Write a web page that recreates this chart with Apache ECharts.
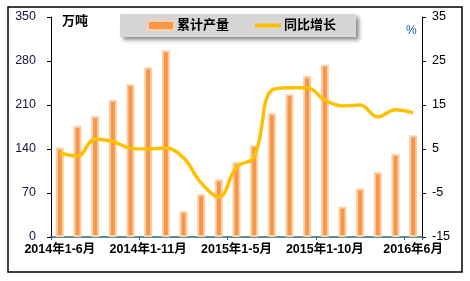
<!DOCTYPE html>
<html><head><meta charset="utf-8">
<script src="https://cdn.jsdelivr.net/npm/echarts@6/dist/echarts.min.js"></script>
<style>html,body{margin:0;padding:0;background:#fff}#c{width:470px;height:281px}</style>
</head><body><div id="c"></div>
<script>
const categories = ['2014年1-6月','2014年1-7月','2014年1-8月','2014年1-9月','2014年1-10月','2014年1-11月','2014年1-12月',
 '2015年1-2月','2015年1-3月','2015年1-4月','2015年1-5月','2015年1-6月','2015年1-7月','2015年1-8月','2015年1-9月','2015年1-10月',
 '2016年1-2月','2016年1-3月','2016年1-4月','2016年1-5月','2016年6月'];
const output = [142, 177, 192, 218, 243, 270, 297, 41, 68, 92, 119, 146, 197, 227, 256, 274, 48, 77, 103, 132, 162];
const growth = [4.1, 3.4, 7.3, 6.7, 5.2, 5.0, 5.2, 3.0, -2.7, -5.9, 0.9, 3.2, 18.4, 18.9, 18.9, 16.1, 14.8, 15.0, 12.3, 13.9, 13.2];
const leftTicks = [0, 70, 140, 210, 280, 350];
const rightTicks = [-15, -5, 5, 15, 25, 35];

const chart = echarts.init(document.getElementById('c'));
const font = 'Arial, "Liberation Sans", "Noto Sans CJK SC", sans-serif';
chart.setOption({
  animation: false,
  textStyle: {fontFamily: font},
  grid: {left: 51, right: 48, top: 17, bottom: 44},
  legend: {
    left: 120, top: 14,
    padding: [5, 20, 5, 27],
    itemWidth: 26, itemHeight: 9, itemGap: 24,
    backgroundColor: '#d6d6d6',
    shadowColor: 'rgba(0,0,0,0.45)', shadowBlur: 4, shadowOffsetX: 3, shadowOffsetY: 3,
    textStyle: {fontSize: 13, fontWeight: 'bold', color: '#000', fontFamily: font, padding: [0,0,0,-2]},
    data: [{name: '累计产量'}, {name: '同比增长', itemStyle: {opacity: 0}, lineStyle: {color: '#ffc000', width: 4}}]
  },
  graphic: [
    {type: 'rect', shape: {x: 8, y: 7, width: 454, height: 265}, style: {fill: 'none', stroke: '#000', lineWidth: 1.5}, z: -1},
    {type: 'text', left: 62, top: 15, style: {text: '万吨', font: 'bold 13px ' + font, fill: '#000'}},
    {type: 'text', left: 406, top: 25, style: {text: '%', font: '12px ' + font, fill: '#1f5fa8'}}
  ],
  xAxis: {
    type: 'category', data: categories,
    axisLine: {lineStyle: {color: '#2b6474', width: 1.5}},
    axisTick: {show: true, length: 3, lineStyle: {color: '#2b6474'}},
    axisLabel: {interval: 4, fontSize: 12.5, fontWeight: 'bold', color: '#000', margin: 6}
  },
  yAxis: [
    {type: 'value', min: 0, max: 350, interval: 70,
     axisLine: {show: true, lineStyle: {color: '#000'}},
     axisTick: {show: true, length: 4, lineStyle: {color: '#000'}},
     splitLine: {show: false},
     axisLabel: {fontSize: 12.5, color: '#14143c', margin: 15}},
    {type: 'value', min: -15, max: 35, interval: 10, position: 'right',
     axisLine: {show: true, lineStyle: {color: '#000'}},
     axisTick: {show: true, length: 4, lineStyle: {color: '#000'}},
     splitLine: {show: false},
     axisLabel: {fontSize: 12.5, color: '#000', margin: 10}}
  ],
  series: [
    {name: '累计产量', type: 'bar', data: output, barWidth: 8,
     itemStyle: {color: '#f79646', borderColor: '#fbcfa8', borderWidth: 2}},
    {name: '同比增长', type: 'line', yAxisIndex: 1, data: growth, smooth: 0.4,
     symbol: 'none', lineStyle: {color: '#ffc000', width: 3.5}, itemStyle: {color: '#ffc000'}}
  ]
});
</script></body></html>
